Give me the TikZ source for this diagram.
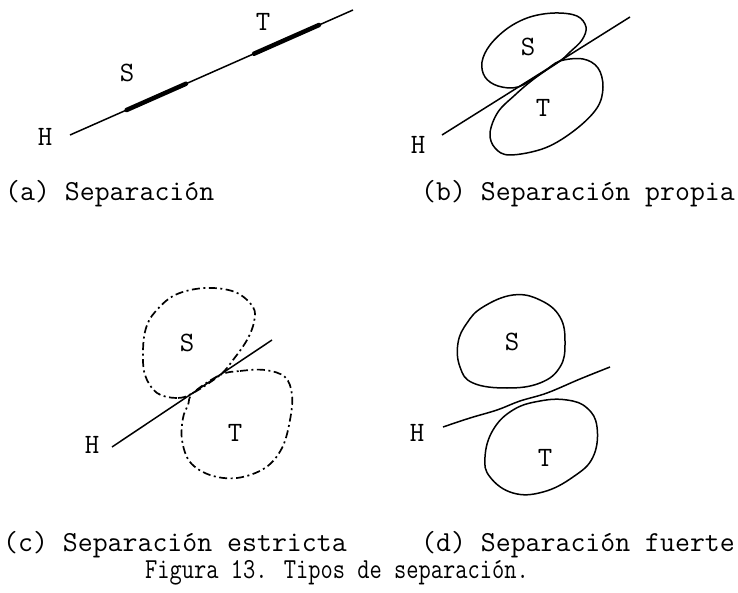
\documentclass[tikz,border=0pt]{standalone}
\usepackage{fontspec}
\usepackage{tikz}
\usetikzlibrary{calc}

\begin{document}
\begin{tikzpicture}[
  x=1pt, y=-1pt,
  lbl/.style={font=\fontsize{28}{32}\selectfont\ttfamily\addfontfeature{FakeBold=1.2}, inner sep=0pt},
  capt/.style={font=\fontsize{29}{34}\selectfont\ttfamily\addfontfeature{FakeBold=1.2}, inner sep=0pt},
  hyper/.style={line width=1.5pt},
  heavy/.style={line width=4.5pt, line cap=round},
  blob/.style={line width=1.5pt},
  dotdash/.style={line width=1.7pt, dash pattern=on 8pt off 3.5pt on 2pt off 3.5pt}
]
  \useasboundingbox (0,0) rectangle (738,593);

  % (a) separacion
  \node[lbl] (Ha) at (45,137) {H};
  \node[lbl] (Sa) at (127,73) {S};
  \node[lbl] (Ta) at (263,22) {T};
  \coordinate (ha0) at (70,135);
  \coordinate (ha1) at (353,10);
  \draw[hyper] (ha0) -- (ha1);
  \draw[heavy] ($(ha0)!0.20!(ha1)$) -- ($(ha0)!0.41!(ha1)$);
  \draw[heavy] ($(ha0)!0.65!(ha1)$) -- ($(ha0)!0.88!(ha1)$);
  \node[capt, anchor=west] (capa) at (5,194) {(a) Separación};

  % (b) separacion propia
  \node[lbl] (Hb) at (418,145) {H};
  \coordinate (hb0) at (442,135);
  \coordinate (hb1) at (630,17);
  \draw[hyper] (hb0) -- (hb1);
  \draw[blob] plot[smooth cycle, tension=0.6] coordinates {
    (518,87) (498,86) (485,77) (482,62) (490,45) (508,28) (530,17)
    (555,13) (577,16) (586,27) (582,40) (570,52) (560,61) (540,74)};
  \draw[blob] plot[smooth cycle, tension=0.6] coordinates {
    (560,61) (583,59) (598,68) (603,87) (597,108) (575,130) (545,148)
    (510,155) (495,148) (490,133) (498,112) (515,95) (530,82) (545,71)};
  \node[lbl] (Sb) at (528,47) {S};
  \node[lbl] (Tb) at (543,108) {T};
  \node[capt, anchor=east] (capb) at (735,194) {(b) Separación propia};

  % (c) separacion estricta
  \node[lbl] (Hc) at (92,445) {H};
  \coordinate (hc0) at (112,447);
  \coordinate (hc1) at (272,340);
  \draw[hyper] (hc0) -- (hc1);
  \draw[dotdash] plot[smooth cycle, tension=0.6] coordinates {
    (193,393) (177,398) (157,393) (145,375) (143,350) (146,328) (155,312)
    (175,295) (205,288) (235,292) (253,307) (254,322) (247,340) (233,360) (220,375)};
  \draw[dotdash] plot[smooth cycle, tension=0.6] coordinates {
    (220,375) (240,371) (265,370) (285,377) (292,395) (290,420) (282,448)
    (265,468) (237,478) (210,475) (190,462) (182,440) (183,418) (188,405) (193,393)};
  \node[lbl] (Sc) at (187,343) {S};
  \node[lbl] (Tc) at (235,433) {T};
  \node[capt, anchor=west] (capc) at (3,545) {(c) Separación estricta};

  % (d) separacion fuerte
  \node[lbl] (Hd) at (417,433) {H};
  \draw[hyper] plot[smooth, tension=0.6] coordinates {
    (443,427) (470,418) (497,410) (520,401) (547,393) (580,379) (610,367)};
  \draw[blob] plot[smooth cycle, tension=0.7] coordinates {
    (483,307) (513,295) (540,300) (560,317) (565,343) (560,367)
    (540,383) (507,388) (473,383) (460,367) (458,343) (467,323)};
  \draw[blob] plot[smooth cycle, tension=0.7] coordinates {
    (567,400) (587,408) (597,427) (593,457) (573,477) (543,492)
    (513,493) (490,477) (485,457) (493,430) (513,410) (540,401)};
  \node[lbl] (Sd) at (512,342) {S};
  \node[lbl] (Td) at (545,458) {T};
  \node[capt, anchor=east] (capd) at (735,545) {(d) Separación fuerte};

  \node[capt] (fig) at (337,573) {\scalebox{0.82}[1]{Figura 13. Tipos de separación.}};
\end{tikzpicture}
\end{document}
